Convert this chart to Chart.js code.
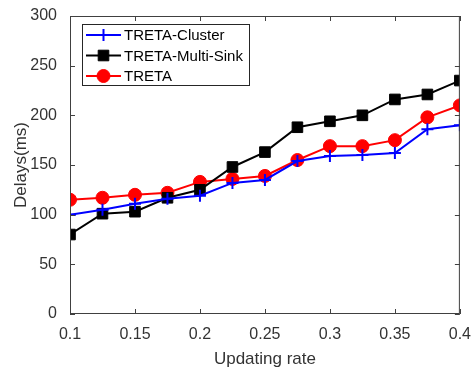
<!DOCTYPE html>
<html>
<head>
<meta charset="utf-8">
<script src="https://cdn.jsdelivr.net/npm/chart.js@4/dist/chart.umd.min.js"></script>
<style>
  body { margin: 0; background: #fff; }
  #myChart { display: block; }
</style>
</head>
<body>
<canvas id="myChart" width="474" height="370"></canvas>
<script>
var rates = [0.1, 0.125, 0.15, 0.175, 0.2, 0.225, 0.25, 0.275, 0.3, 0.325, 0.35, 0.375, 0.4];
var clusterDelay = [100, 105, 111, 116, 119, 132, 135, 154, 159, 160, 162, 186, 190];
var multiSinkDelay = [80, 101, 103, 117, 125, 148, 163, 188, 194, 200, 216, 221, 235];
var tretaDelay = [115, 117, 120, 122, 133, 136, 139, 155, 169, 169, 175, 198, 210];
var seriesNames = ["TRETA-Cluster", "TRETA-Multi-Sink", "TRETA"];

var font = "'Liberation Sans', Arial, sans-serif";
var textColor = "#333333";

function toPoints(ys) {
    return rates.map(function (x, i) { return { x: x, y: ys[i] }; });
}

// MATLAB-style frame with inward ticks and a boxed legend
var matlabFrame = {
    id: "matlabFrame",
    afterDraw: function (chart) {
        var c = chart.ctx, a = chart.chartArea;
        var xs = chart.scales.x, ys = chart.scales.y;
        c.save();
        c.strokeStyle = "#404040";
        c.lineWidth = 1;
        c.strokeRect(a.left + 0.5, a.top + 0.5, a.right - a.left - 1, a.bottom - a.top - 1);
        var t = 5;
        c.beginPath();
        xs.ticks.forEach(function (tk) {
            var px = Math.round(xs.getPixelForValue(tk.value)) + 0.5;
            c.moveTo(px, a.bottom); c.lineTo(px, a.bottom - t);
            c.moveTo(px, a.top); c.lineTo(px, a.top + t);
        });
        ys.ticks.forEach(function (tk) {
            var py = Math.round(ys.getPixelForValue(tk.value)) + 0.5;
            c.moveTo(a.left, py); c.lineTo(a.left + t, py);
            c.moveTo(a.right, py); c.lineTo(a.right - t, py);
        });
        c.stroke();

        // legend
        var bx = 82, by = 24, bw = 167, bh = 61;
        c.fillStyle = "#fff";
        c.fillRect(bx, by, bw, bh);
        c.strokeStyle = "#262626";
        c.strokeRect(bx + 0.5, by + 0.5, bw, bh);
        c.font = "15px " + font;
        c.textBaseline = "middle";
        chart.data.datasets.forEach(function (ds, i) {
            var y = by + 11 + i * 20.5;
            c.strokeStyle = ds.borderColor;
            c.lineWidth = 2;
            c.beginPath(); c.moveTo(86, y); c.lineTo(121, y); c.stroke();
            c.fillStyle = ds.pointBackgroundColor;
            c.lineWidth = ds.pointBorderWidth;
            Chart.helpers.drawPoint(c, { pointStyle: ds.pointStyle, radius: ds.pointRadius, borderWidth: ds.pointBorderWidth }, 103.5, y);
            c.fillStyle = "#000";
            c.fillText(ds.label, 124, y + 1);
        });
        c.restore();
    }
};

new Chart(document.getElementById("myChart"), {
    type: "line",
    data: {
        datasets: [
            {
                label: seriesNames[0],
                data: toPoints(clusterDelay),
                borderColor: "#0000ff",
                pointBackgroundColor: "#0000ff",
                pointBorderColor: "#0000ff",
                pointStyle: "cross",
                pointRadius: 6,
                pointBorderWidth: 2,
                borderWidth: 2
            },
            {
                label: seriesNames[1],
                data: toPoints(multiSinkDelay),
                borderColor: "#000000",
                pointBackgroundColor: "#000000",
                pointBorderColor: "#000000",
                pointStyle: "rect",
                pointRadius: 7.5,
                pointBorderWidth: 1,
                borderWidth: 2
            },
            {
                label: seriesNames[2],
                data: toPoints(tretaDelay),
                borderColor: "#ff0000",
                pointBackgroundColor: "#ff0000",
                pointBorderColor: "#ff0000",
                pointStyle: "circle",
                pointRadius: 6.5,
                pointBorderWidth: 1,
                borderWidth: 2
            }
        ]
    },
    options: {
        responsive: false,
        animation: false,
        layout: { padding: { top: 16, right: 14, left: 0, bottom: 0 } },
        plugins: {
            legend: { display: false },
            tooltip: { enabled: false }
        },
        scales: {
            x: {
                type: "linear",
                min: 0.1,
                max: 0.4,
                grid: { display: false },
                border: { display: false },
                afterFit: function (s) { s.height = 56; },
                ticks: {
                    stepSize: 0.05,
                    padding: 3,
                    color: textColor,
                    font: { family: font, size: 16 },
                    callback: function (v) { return String(+v.toFixed(3)); }
                },
                title: {
                    display: true,
                    text: "Updating rate",
                    color: textColor,
                    padding: { top: 0, bottom: 0 },
                    font: { family: font, size: 17 }
                }
            },
            y: {
                min: 0,
                max: 300,
                grid: { display: false },
                border: { display: false },
                afterFit: function (s) { s.width = 70; },
                ticks: {
                    stepSize: 50,
                    padding: 5,
                    color: textColor,
                    font: { family: font, size: 16 }
                },
                title: {
                    display: true,
                    text: "Delays(ms)",
                    color: textColor,
                    padding: { top: 11, bottom: 0 },
                    font: { family: font, size: 17 }
                }
            }
        }
    },
    plugins: [matlabFrame]
});
</script>
</body>
</html>
